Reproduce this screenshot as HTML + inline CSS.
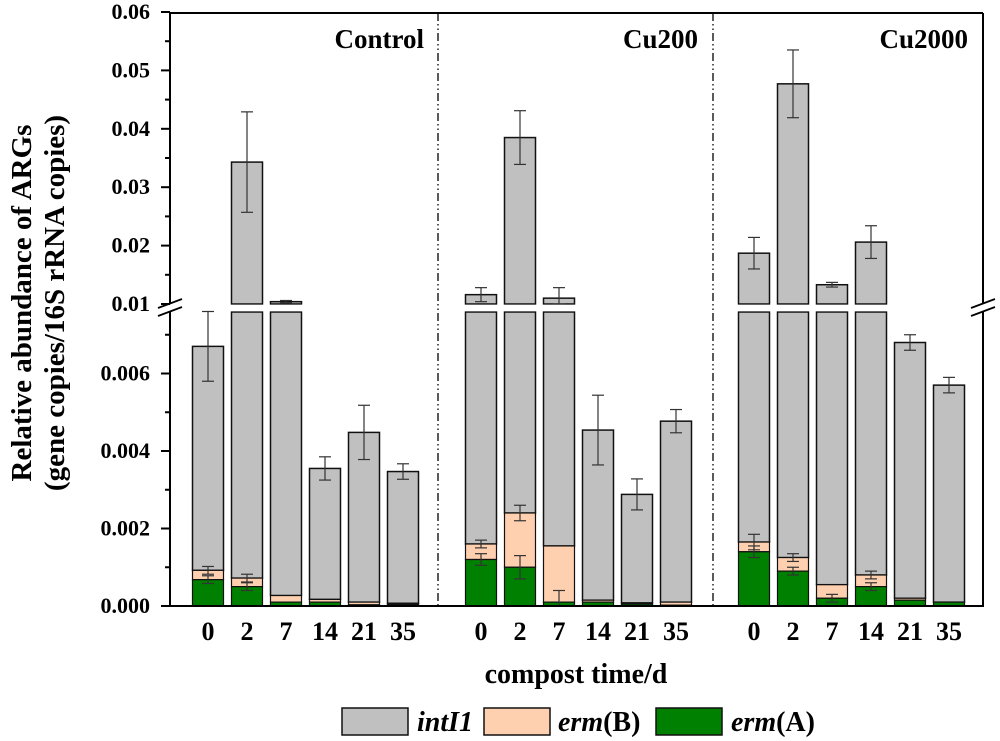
<!DOCTYPE html>
<html><head><meta charset="utf-8"><style>
html,body{margin:0;padding:0;background:#fff;}
svg{display:block;font-family:"Liberation Serif",serif;font-weight:bold;}
</style></head><body>
<svg id="chart" width="1000" height="741" viewBox="0 0 1000 741" xmlns="http://www.w3.org/2000/svg"></svg>
<script>
const groups = ["Control","Cu200","Cu2000"];
const days = ["0","2","7","14","21","35"];
const intI1Total = [
  [0.0067,0.0343,0.0104,0.00355,0.00448,0.00347],
  [0.0116,0.0385,0.0110,0.00454,0.00288,0.00477],
  [0.0187,0.0477,0.0133,0.0206,0.0068,0.0057]];
const intI1Err = [
  [0.0009,0.0086,0.0002,0.0003,0.0007,0.0002],
  [0.0012,0.0046,0.0018,0.0009,0.0004,0.0003],
  [0.0027,0.0058,0.0004,0.0028,0.0002,0.0002]];
const ermBTop = [
  [0.00092,0.00072,0.00027,0.00017,0.0001,0.00007],
  [0.0016,0.0024,0.00155,0.00015,0.00008,0.0001],
  [0.00165,0.00125,0.00055,0.0008,0.0002,0.0001]];
const ermBErr = [
  [0.0001,0.0001,0,0,0,0],
  [0.0001,0.0002,0,0,0,0],
  [0.0002,0.0001,0,0.0001,0,0]];
const ermA = [
  [0.00068,0.0005,0.0001,0.0001,0.00003,0.00004],
  [0.0012,0.001,0.0001,0.0001,0.00005,0.00002],
  [0.0014,0.0009,0.0002,0.0005,0.00015,0.0001]];
const ermAErr = [
  [0.0001,0.0001,0,0,0,0],
  [0.00015,0.0003,0.0003,0,0,0],
  [0.00015,0.0001,0.0001,0.0001,0,0]];
const upperTicks = [0.01,0.02,0.03,0.04,0.05,0.06];
const lowerTicks = [0,0.002,0.004,0.006];

const NS="http://www.w3.org/2000/svg";
const svg=document.getElementById('chart');
function mk(tag,attrs,parent){const e=document.createElementNS(NS,tag);for(const k in attrs)e.setAttribute(k,attrs[k]);(parent||svg).appendChild(e);return e;}
const L=170,R=983,T=13,B=606,BRK_LO=312,BRK_HI=304;
const xPos=(g,i)=>208+(g*7+i)*39;
const yLow=v=>B-v/0.002*77.5;
const yUp=v=>BRK_HI-(v-0.01)/0.01*58.4;
const yAny=v=>v<=0.0076?yLow(v):yUp(Math.max(v,0.01));
const BW=31;

groups.forEach((gname,g)=>{
  days.forEach((d,i)=>{
    const cx=xPos(g,i),x0=cx-BW/2;
    const tot=intI1Total[g][i];
    const grp=mk('g',{});
    
    
    if(tot>0.0076){
      mk('rect',{x:x0,y:BRK_LO,width:BW,height:yLow(ermBTop[g][i])-BRK_LO,fill:'#c0c0c0',stroke:'#111','stroke-width':1.5},grp);
      mk('rect',{x:x0,y:yUp(tot),width:BW,height:BRK_HI-yUp(tot),fill:'#c0c0c0',stroke:'#111','stroke-width':1.5},grp);
      mk('rect',{x:x0-2,y:BRK_HI+0.8,width:BW+4,height:BRK_LO-BRK_HI-1.6,fill:'#fff'},grp);
    } else {
      mk('rect',{x:x0,y:yLow(tot),width:BW,height:yLow(ermBTop[g][i])-yLow(tot),fill:'#c0c0c0',stroke:'#111','stroke-width':1.5},grp);
    }
    mk('rect',{x:x0,y:yLow(ermBTop[g][i]),width:BW,height:yLow(ermA[g][i])-yLow(ermBTop[g][i]),fill:'#ffd0b0',stroke:'#111','stroke-width':1.2},grp);
    mk('rect',{x:x0,y:yLow(ermA[g][i]),width:BW,height:B-yLow(ermA[g][i]),fill:'#008000',stroke:'#111','stroke-width':1.2},grp);
    const errs=[[tot,intI1Err[g][i]],[ermBTop[g][i],ermBErr[g][i]],[ermA[g][i],ermAErr[g][i]]];
    errs.forEach(([v,e])=>{
      if(e<=0)return;
      let y1,y2;
      if(v>0.0076){y1=yUp(v+e);y2=yUp(Math.max(v-e,0.01));}
      else{y1=yAny(v+e);y2=yLow(Math.max(v-e,0));}
      mk('line',{x1:cx,x2:cx,y1:y1,y2:y2,stroke:'#333','stroke-width':1.2},grp);
      mk('line',{x1:cx-6,x2:cx+6,y1:y1,y2:y1,stroke:'#333','stroke-width':1.2},grp);
      mk('line',{x1:cx-6,x2:cx+6,y1:y2,y2:y2,stroke:'#333','stroke-width':1.2},grp);
    });
    const t=mk('text',{x:cx,y:640,'text-anchor':'middle','font-size':26});
    t.textContent=d;
    
    
  });
});

const ax=mk('g',{stroke:'#000','stroke-width':2,fill:'none'});


mk('line',{x1:L,y1:T,x2:R,y2:T},ax);
mk('line',{x1:L-1,y1:B,x2:R+1,y2:B},ax);
mk('line',{x1:L,y1:T,x2:L,y2:BRK_HI},ax);
mk('line',{x1:L,y1:BRK_LO,x2:L,y2:B},ax);
mk('line',{x1:R,y1:T,x2:R,y2:BRK_HI},ax);
mk('line',{x1:R,y1:BRK_LO,x2:R,y2:B},ax);
[L,R].forEach(x=>{
  mk('line',{x1:x-12,y1:BRK_HI+4,x2:x+12,y2:BRK_HI-5,'stroke-width':1.8},ax);
  mk('line',{x1:x-12,y1:BRK_LO+4,x2:x+12,y2:BRK_LO-5,'stroke-width':1.8},ax);
});
[438,713].forEach(x=>{
  const dl=mk('line',{x1:x,y1:T,x2:x,y2:B,stroke:'#000','stroke-width':1.3,'stroke-dasharray':'8 3 1.5 3 1.5 3'});
  
  
});
upperTicks.forEach(v=>{
  const y=yUp(v);
  mk('line',{x1:L-9,x2:L,y1:y,y2:y,stroke:'#000','stroke-width':2});
  if(v<0.06)mk('line',{x1:L-5,x2:L,y1:yUp(v+0.005),y2:yUp(v+0.005),stroke:'#000','stroke-width':2});
  const t=mk('text',{x:L-20,y:y+7,'text-anchor':'end','font-size':22});
  t.textContent=v.toFixed(2);
  
  
});
lowerTicks.forEach(v=>{
  const y=yLow(v);
  mk('line',{x1:L-9,x2:L,y1:y,y2:y,stroke:'#000','stroke-width':2});
  mk('line',{x1:L-5,x2:L,y1:yLow(v+0.001),y2:yLow(v+0.001),stroke:'#000','stroke-width':2});
  const t=mk('text',{x:L-20,y:y+7,'text-anchor':'end','font-size':22});
  t.textContent=v.toFixed(3);
  
  
});
[["Control",424],["Cu200",698],["Cu2000",968]].forEach(([s,x])=>{
  const t=mk('text',{x:x,y:48,'text-anchor':'end','font-size':27});
  t.textContent=s;
  
  
});
const yt=mk('text',{transform:'translate(31,303) rotate(-90)','text-anchor':'middle','font-size':29});


const ts1=mk('tspan',{x:0,dy:0},yt);ts1.textContent='Relative abundance of ARGs';
const ts2=mk('tspan',{x:0,dy:33},yt);ts2.textContent='(gene copies/16S rRNA copies)';
const xt=mk('text',{x:576,y:683,'text-anchor':'middle','font-size':28});
xt.textContent='compost time/d';


const lg=mk('g',{});


const legItems=[['#c0c0c0',342,417,[['intI1',true]]],['#ffd0b0',484,558,[['erm',true],['(B)',false]]],['#008000',656,731,[['erm',true],['(A)',false]]]];
legItems.forEach(([c,bx,tx,parts])=>{
  const eg=mk('g',{},lg);
  
  
  mk('rect',{x:bx,y:708,width:66,height:27,fill:c,stroke:'#111','stroke-width':1.5},eg);
  const t=mk('text',{x:tx,y:731,'font-size':28},eg);
  parts.forEach(([s,it])=>{const sp=mk('tspan',it?{'font-style':'italic'}:{},t);sp.textContent=s;});
});
</script>
</body></html>
